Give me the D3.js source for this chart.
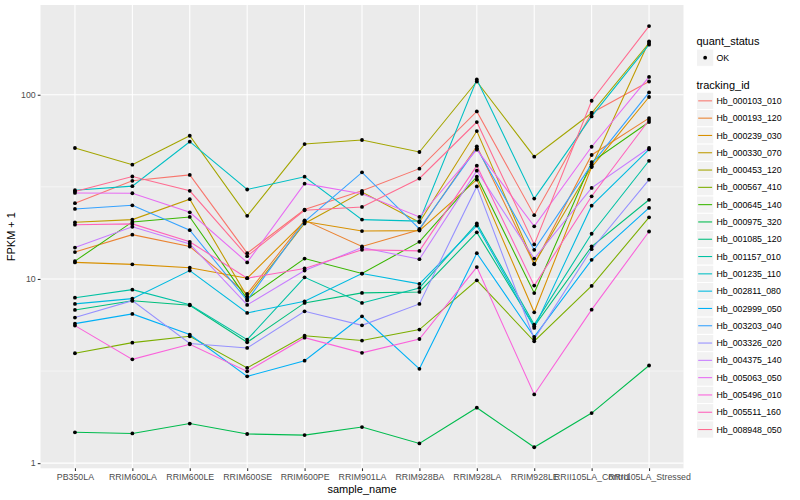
<!DOCTYPE html>
<html>
<head>
<meta charset="utf-8">
<script src="https://cdn.jsdelivr.net/npm/d3@7/dist/d3.min.js"></script>
<style>
body { margin: 0; background: #fff; }
text { font-family: "Liberation Sans", Arial, sans-serif; }
</style>
</head>
<body>
<script>
// samples on the x axis
const samples = ["PB350LA", "RRIM600LA", "RRIM600LE", "RRIM600SE", "RRIM600PE", "RRIM901LA",
    "RRIM928BA", "RRIM928LA", "RRIM928LE", "RRII105LA_Control", "RRII105LA_Stressed"]

const trackingIds = ["Hb_000103_010", "Hb_000193_120", "Hb_000239_030", "Hb_000330_070", "Hb_000453_120",
    "Hb_000567_410", "Hb_000645_140", "Hb_000975_320", "Hb_001085_120", "Hb_001157_010",
    "Hb_001235_110", "Hb_002811_080", "Hb_002999_050", "Hb_003203_040", "Hb_003326_020",
    "Hb_004375_140", "Hb_005063_050", "Hb_005496_010", "Hb_005511_160", "Hb_008948_050"]

// FPKM + 1, one value per sample
const hb_000103_010 = [25.8, 34.1, 36.7, 13.8, 23.8, 30.1, 39.7, 81.2, 22.2, 79.6, 118]
const hb_000193_120 = [14.0, 17.4, 15.0, 8.29, 20.8, 15.0, 18.5, 52.5, 12.0, 47.1, 74.7]
const hb_000239_030 = [12.3, 12.0, 11.5, 10.1, 20.5, 18.2, 18.3, 34.6, 6.59, 40.5, 97.2]
const hb_000330_070 = [20.3, 21.0, 27.1, 8.02, 20.0, 29.6, 20.3, 63.5, 12.1, 40.8, 195]
const hb_000453_120 = [51.4, 41.7, 59.9, 22.0, 54.0, 56.8, 48.9, 118, 46.1, 79.6, 191]
const hb_000567_410 = [3.95, 4.51, 4.88, 3.29, 4.92, 4.63, 5.31, 9.83, 4.59, 9.17, 21.6]
const hb_000645_140 = [12.5, 20.4, 21.7, 7.79, 12.9, 10.7, 15.9, 35.9, 8.38, 43.1, 71.1]
const hb_000975_320 = [1.47, 1.45, 1.64, 1.44, 1.42, 1.57, 1.28, 2.00, 1.22, 1.87, 3.39]
const hb_001085_120 = [6.79, 7.62, 7.20, 4.53, 7.41, 8.40, 8.50, 17.9, 5.53, 15.0, 26.9]
const hb_001157_010 = [7.91, 8.75, 7.25, 4.68, 10.2, 7.41, 8.94, 20.0, 5.65, 17.6, 43.8]
const hb_001235_110 = [30.3, 31.9, 55.6, 30.6, 35.9, 21.0, 20.6, 121, 27.3, 76.3, 187]
const hb_002811_080 = [7.32, 7.82, 11.1, 6.54, 7.56, 10.7, 9.40, 19.5, 5.42, 25.0, 50.5]
const hb_002999_050 = [5.72, 6.46, 4.99, 2.96, 3.60, 6.27, 3.25, 13.8, 4.85, 12.7, 24.3]
const hb_003203_040 = [24.0, 25.1, 18.4, 7.65, 20.5, 37.9, 18.7, 51.3, 14.4, 41.9, 103]
const hb_003326_020 = [6.17, 7.62, 4.46, 4.22, 6.67, 5.60, 7.32, 31.8, 4.72, 14.5, 34.6]
const hb_004375_140 = [14.8, 19.2, 15.5, 7.23, 11.1, 14.8, 12.8, 38.7, 12.9, 31.2, 51.4]
const hb_005063_050 = [29.3, 29.2, 23.0, 12.3, 32.9, 29.0, 21.7, 50.3, 19.3, 52.2, 125]
const hb_005496_010 = [5.58, 3.66, 4.42, 3.15, 4.80, 3.97, 4.72, 11.6, 2.36, 6.81, 18.1]
const hb_005511_160 = [19.7, 19.9, 15.9, 10.1, 11.4, 14.4, 14.2, 41.2, 9.2, 28.1, 72.9]
const hb_008948_050 = [29.8, 36.0, 30.1, 13.3, 23.6, 24.6, 35.1, 71.1, 15.4, 92.8, 236]

const seriesValues = [hb_000103_010, hb_000193_120, hb_000239_030, hb_000330_070, hb_000453_120,
    hb_000567_410, hb_000645_140, hb_000975_320, hb_001085_120, hb_001157_010,
    hb_001235_110, hb_002811_080, hb_002999_050, hb_003203_040, hb_003326_020,
    hb_004375_140, hb_005063_050, hb_005496_010, hb_005511_160, hb_008948_050]

const yTicks = [1, 10, 100]
const statusLabels = ["OK"]

// ggplot hue palette, 20 levels
const palette = ["#F8766D", "#EA8331", "#D89000", "#C09B00", "#A3A500", "#7CAE00", "#39B600", "#00BB4E",
    "#00BF7D", "#00C1A3", "#00BFC4", "#00BAE0", "#00B0F6", "#35A2FF", "#9590FF", "#C77CFF",
    "#E76BF3", "#FA62DB", "#FF62BC", "#FF6C91"]

const width = 800
const height = 500
const panel = {left: 40.5, right: 683.5, top: 5, bottom: 468.3}

const series = trackingIds.map((id, i) => ({
    id: id,
    points: samples.map((s, j) => ({sample: s, value: seriesValues[i][j]}))
}))

const allValues = seriesValues.flat()
const logMin = Math.log10(d3.min(allValues))
const logMax = Math.log10(d3.max(allValues))
const pad = (logMax - logMin) * 0.05

const xScale = d3.scalePoint()
    .domain(samples)
    .range([panel.left, panel.right])
    .padding(0.6)

const yScale = d3.scaleLog()
    .domain([Math.pow(10, logMin - pad), Math.pow(10, logMax + pad)])
    .range([panel.bottom, panel.top])

const colour = d3.scaleOrdinal().domain(trackingIds).range(palette)

let svg = d3.select('body')
    .append('svg')
    .attr('width', width)
    .attr('height', height)

svg.append('rect')
    .attr('width', width).attr('height', height)
    .attr('fill', '#fff')

// panel background
svg.append('rect')
    .attr('x', panel.left).attr('y', panel.top)
    .attr('width', panel.right - panel.left)
    .attr('height', panel.bottom - panel.top)
    .attr('fill', '#EBEBEB')

// grid
let grid = svg.append('g')
const minorTicks = [Math.pow(10, 0.5), Math.pow(10, 1.5), Math.pow(10, 2.5)]
    .filter(v => v >= yScale.domain()[0] && v <= yScale.domain()[1])

grid.selectAll('.minor')
    .data(minorTicks)
    .enter().append('line')
    .attr('x1', panel.left).attr('x2', panel.right)
    .attr('y1', d => yScale(d)).attr('y2', d => yScale(d))
    .attr('stroke', '#fff').attr('stroke-width', 0.53)

grid.selectAll('.majorY')
    .data(yTicks)
    .enter().append('line')
    .attr('x1', panel.left).attr('x2', panel.right)
    .attr('y1', d => yScale(d)).attr('y2', d => yScale(d))
    .attr('stroke', '#fff').attr('stroke-width', 1.07)

grid.selectAll('.majorX')
    .data(samples)
    .enter().append('line')
    .attr('x1', d => xScale(d)).attr('x2', d => xScale(d))
    .attr('y1', panel.top).attr('y2', panel.bottom)
    .attr('stroke', '#fff').attr('stroke-width', 1.07)

// lines
const line = d3.line()
    .x(d => xScale(d.sample))
    .y(d => yScale(d.value))

svg.append('g')
    .selectAll('path')
    .data(series)
    .enter().append('path')
    .attr('d', d => line(d.points))
    .attr('fill', 'none')
    .attr('stroke', d => colour(d.id))
    .attr('stroke-width', 1.07)

// points
svg.append('g')
    .selectAll('g')
    .data(series)
    .enter().append('g')
    .selectAll('circle')
    .data(d => d.points)
    .enter().append('circle')
    .attr('cx', d => xScale(d.sample))
    .attr('cy', d => yScale(d.value))
    .attr('r', 1.9)
    .attr('fill', '#000')

// axes
let yAxis = svg.append('g')
    .attr('transform', `translate(${panel.left}, 0)`)
    .call(d3.axisLeft(yScale).tickValues(yTicks).tickFormat(d3.format('d')).tickSize(2.75).tickPadding(2))
yAxis.select('.domain').remove()
yAxis.selectAll('line').attr('stroke', '#333333').attr('stroke-width', 1.07)
yAxis.selectAll('text').attr('fill', '#4D4D4D').style('font-size', '8.8px')
    .style('font-family', '"Liberation Sans", Arial, sans-serif')

let xAxis = svg.append('g')
    .attr('transform', `translate(0, ${panel.bottom})`)
    .call(d3.axisBottom(xScale).tickSize(2.75).tickPadding(3))
xAxis.select('.domain').remove()
xAxis.selectAll('line').attr('stroke', '#333333').attr('stroke-width', 1.07)
xAxis.selectAll('text').attr('fill', '#4D4D4D').style('font-size', '8.8px')
    .style('font-family', '"Liberation Sans", Arial, sans-serif')

// axis titles
svg.append('text')
    .attr('x', (panel.left + panel.right) / 2)
    .attr('y', 493)
    .attr('text-anchor', 'middle')
    .style('font-size', '11px')
    .text('sample_name')

svg.append('text')
    .attr('transform', `translate(15, ${(panel.top + panel.bottom) / 2}) rotate(-90)`)
    .attr('text-anchor', 'middle')
    .style('font-size', '11px')
    .text('FPKM + 1')

// legends
const legendX = 696.5
const keySize = 17.3

let legend = svg.append('g')

legend.append('text')
    .attr('x', legendX).attr('y', 44.5)
    .style('font-size', '11px')
    .text('quant_status')

let statusKeys = legend.selectAll('.status')
    .data(statusLabels)
    .enter().append('g')
    .attr('transform', (d, i) => `translate(${legendX}, ${49 + i * keySize})`)
statusKeys.append('rect')
    .attr('width', keySize).attr('height', keySize)
    .attr('fill', '#F2F2F2').attr('stroke', '#fff')
statusKeys.append('circle')
    .attr('cx', keySize / 2).attr('cy', keySize / 2)
    .attr('r', 1.9).attr('fill', '#000')
statusKeys.append('text')
    .attr('x', keySize + 2.7).attr('y', keySize / 2 + 3.1)
    .style('font-size', '8.8px')
    .text(d => d)

legend.append('text')
    .attr('x', legendX).attr('y', 88.5)
    .style('font-size', '11px')
    .text('tracking_id')

let idKeys = legend.selectAll('.ids')
    .data(trackingIds)
    .enter().append('g')
    .attr('transform', (d, i) => `translate(${legendX}, ${92.2 + i * keySize})`)
idKeys.append('rect')
    .attr('width', keySize).attr('height', keySize)
    .attr('fill', '#F2F2F2').attr('stroke', '#fff')
idKeys.append('line')
    .attr('x1', 1.7).attr('x2', keySize - 1.7)
    .attr('y1', keySize / 2).attr('y2', keySize / 2)
    .attr('stroke', d => colour(d)).attr('stroke-width', 1.07)
idKeys.append('text')
    .attr('x', keySize + 2.7).attr('y', keySize / 2 + 3.1)
    .style('font-size', '8.8px')
    .text(d => d)
</script>
</body>
</html>
